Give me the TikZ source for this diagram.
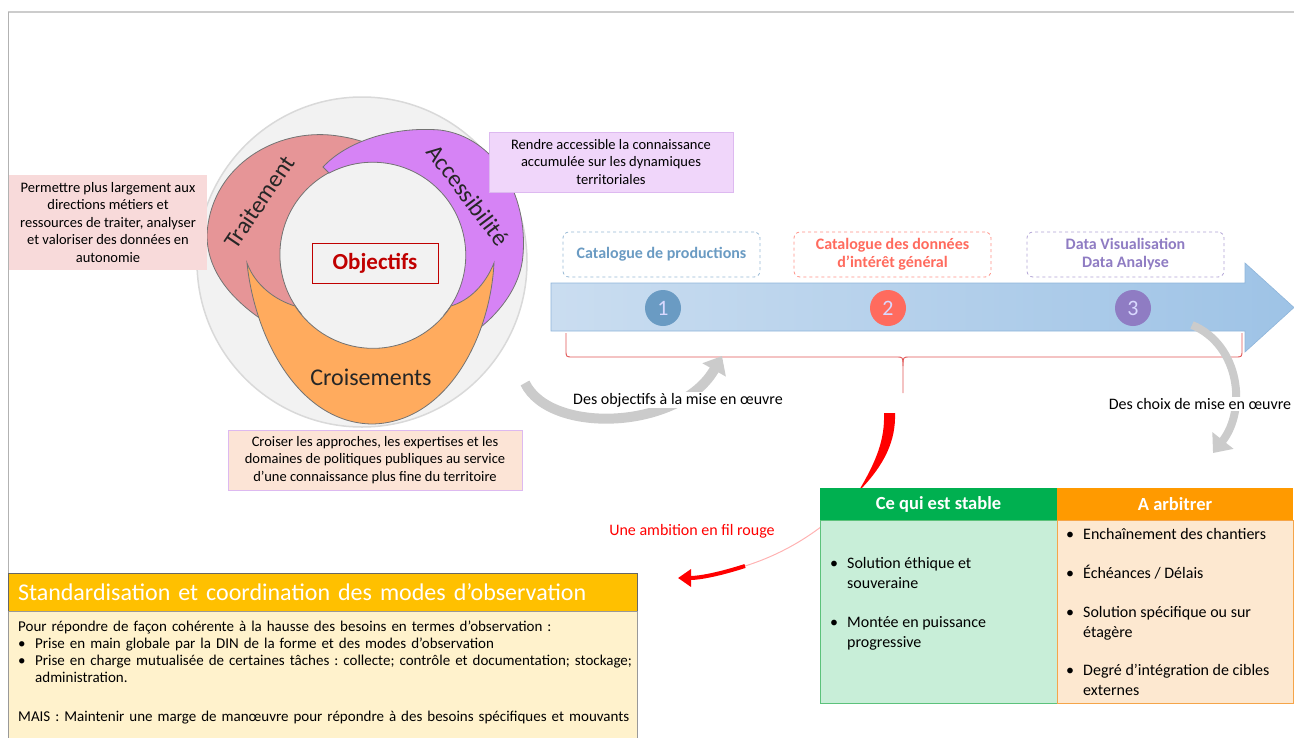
\documentclass[tikz,border=0pt]{standalone}
\usepackage{fontspec}
\setmainfont{Carlito}
\frenchspacing
\usetikzlibrary{arrows.meta,positioning}
\definecolor{rosearc}{HTML}{E69597}
\definecolor{mauvearc}{HTML}{D683F5}
\definecolor{orangearc}{HTML}{FFAB5E}
\definecolor{fondrond}{HTML}{F2F2F2}
\definecolor{bordrond}{HTML}{D9D9D9}
\definecolor{rougeobj}{HTML}{C00000}
\definecolor{rosepale}{HTML}{F8DADA}
\definecolor{mauvepale}{HTML}{F0D6FA}
\definecolor{mauvebord}{HTML}{DDB9F0}
\definecolor{peche}{HTML}{FCE4D6}
\definecolor{flecheg}{HTML}{CADDF0}
\definecolor{fleched}{HTML}{9EC3E6}
\definecolor{flechebord}{HTML}{8FB5DA}
\definecolor{bleuun}{HTML}{6A9BC3}
\definecolor{rougedeux}{HTML}{FF6B5E}
\definecolor{violettrois}{HTML}{8F7CC3}
\definecolor{grisfl}{HTML}{CBCBCB}
\definecolor{vertfonce}{HTML}{00B050}
\definecolor{vertpale}{HTML}{C8EED8}
\definecolor{vertbord}{HTML}{5CC27B}
\definecolor{orangefonce}{HTML}{FF9A00}
\definecolor{orangepale}{HTML}{FDE8D0}
\definecolor{orangebord}{HTML}{F5A54A}
\definecolor{jaunetitre}{HTML}{FFC000}
\definecolor{creme}{HTML}{FFF2CC}
\definecolor{rougebrace}{HTML}{E05555}
\newcommand{\puce}[2][200pt]{\makebox[17pt][l]{\textbullet}\parbox[t]{#1}{\raggedright #2}}
\tikzset{ % styles
    every node/.style={font=\fontsize{16}{19}\selectfont},
    croissant/.style={draw=black!55, line width=0.8pt},
    etiq/.style={font=\fontsize{24}{28}\selectfont, text=black!85},
    boite/.style={align=center, inner sep=0pt, font=\fontsize{14.5}{17.5}\selectfont},
    jalon/.style={draw, dashed, rounded corners=6pt, line width=0.8pt, fill=white,
        minimum width=197pt, minimum height=45pt, align=center,
        font=\bfseries\fontsize{16}{18}\selectfont},
    numero/.style={circle, minimum size=36pt, inner sep=0pt, text=white!85!blue,
        font=\fontsize{22}{22}\selectfont},
    fleche grise/.style={draw=grisfl, line width=10pt, -{Triangle[width=26pt,length=16pt]}},
    tete/.style={minimum height=32pt, inner sep=0pt, text=white,
        font=\bfseries\fontsize{18.5}{21}\selectfont},
    corps/.style={minimum height=183pt, inner sep=0pt, line width=1pt},
    item/.style={anchor=base west, inner sep=0pt, font=\fontsize{16}{20}\selectfont},
}
\begin{document}
\begin{tikzpicture}[x=1pt,y=-1pt]
    \useasboundingbox (0,0) rectangle (1294,737);
    \draw[gray!40, line width=2pt] (8,11.5) -- (1294,11.5);
    \draw[gray!60, line width=0.6pt] (8.5,12) -- (8.5,737);
    % cycle des objectifs
    \draw[fill=fondrond, draw=bordrond, line width=1.5pt] (362,262) circle[radius=165];
    \filldraw[croissant, fill=rosearc] (270,325) .. controls (230,300) and (207,270) .. (207,235)
        .. controls (210,170) and (270,130) .. (330,135) .. controls (350,137) and (368,142) .. (381,150)
        -- (381,162) arc[start angle=275, end angle=140, radius=93] -- cycle;
    \filldraw[croissant, fill=mauvearc] (323,167) .. controls (345,143) and (390,126) .. (440,130)
        .. controls (495,137) and (528,195) .. (523,255) .. controls (521,285) and (500,315) .. (470,335)
        -- (444,315) arc[start angle=40, end angle=-118, radius=93] -- cycle;
    \filldraw[croissant, fill=orangearc] (247,263) .. controls (255,340) and (300,423) .. (372,424)
        .. controls (445,423) and (490,340) .. (494,263) .. controls (485,285) and (470,300) .. (451,306)
        arc[start angle=33, end angle=147, radius=93] .. controls (275,300) and (255,285) .. (247,263) -- cycle;
    \node[etiq, rotate=56] (trait) at (259,202) {Traitement};
    \node[etiq, rotate=-53] (acces) at (468,195) {Accessibilité};
    \node[etiq] (crois) at (371,377) {Croisements};
    \node[draw=rougeobj, line width=0.8pt, minimum width=126pt, minimum height=40pt, text=rougeobj,
        font=\bfseries\fontsize{23}{26}\selectfont] (obj) at (375,263) {Objectifs};
    % textes des objectifs
    \node[boite, fill=rosepale, minimum width=198pt, minimum height=95pt] (txtrait) at (108,222.5)
        {Permettre plus largement aux\\ directions métiers et\\ ressources de traiter, analyser\\
        et valoriser des données en\\ autonomie};
    \node[boite, fill=mauvepale, draw=mauvebord, minimum width=244pt, minimum height=60pt] (txacces) at (611,162)
        {Rendre accessible la connaissance\\ accumulée sur les dynamiques\\ territoriales};
    \node[boite, fill=peche, draw=mauvebord, minimum width=294pt, minimum height=60pt] (txcrois) at (375,460)
        {Croiser les approches, les expertises et les\\ domaines de politiques publiques au service\\
        d’une connaissance plus fine du territoire};
    % grande fleche
    \shade[left color=flecheg, right color=fleched, draw=flechebord, line width=0.6pt]
        (551,283) -- (1245,283) -- (1245,263) -- (1294,307.5) -- (1245,352) -- (1245,331) -- (551,331) -- cycle;
    \node[numero, fill=bleuun] (n1) at (663,308) {1};
    \node[numero, fill=rougedeux] (n2) at (888,308) {2};
    \node[numero, fill=violettrois] (n3) at (1133,308) {3};
    \node[jalon, draw=bleuun!70, text=bleuun] (j1) at (661.5,254.5) {Catalogue de productions};
    \node[jalon, draw=rougedeux!75, text=rougedeux] (j2) at (892.5,254.5) {Catalogue des données\\ d’intérêt général};
    \node[jalon, draw=violettrois!70, text=violettrois] (j3) at (1125.5,254.5) {Data Visualisation\\ Data Analyse};
    % accolade
    \coordinate (pointe) at (903,393);
    \draw[rougebrace, line width=0.9pt] (566,333) -- (566,350) .. controls (566,357) .. (573,357) -- (896,357)
        .. controls (903,357) .. (903,366) -- (pointe);
    \draw[rougebrace, line width=0.9pt] (903,366) .. controls (903,357) .. (910,357) -- (1235,357)
        .. controls (1242,357) .. (1242,350) -- (1242,333);
    % fleches grises
    \coordinate (qa) at (525,383);
    \coordinate (ta) at (722,356);
    \coordinate (qb) at (1192,325);
    \coordinate (tb) at (1213,453);
    \draw[fleche grise] (qa) .. controls (550,435) and (680,430) .. (ta);
    \draw[fleche grise, line width=8pt] (qb) .. controls (1240,345) and (1247,410) .. (tb);
    \node[fill=white, inner sep=1pt] (lba) at (678,400) {Des objectifs à la mise en œuvre};
    \node[fill=white, inner sep=1pt] (lbb) at (1200,404) {Des choix de mise en œuvre};
    % fil rouge
    \coordinate (ra) at (889,413);
    \coordinate (rb) at (858,492);
    \coordinate (rc) at (745,566);
    \coordinate (rd) at (678,578);
    \fill[red] (884,413) -- (895,413) .. controls (896,440) and (885,465) .. (rb)
        .. controls (876,462) and (885,440) .. (884,413) -- cycle;
    \draw[red!30, line width=1pt] (rb) .. controls (830,525) and (790,552) .. (rc);
    \draw[red, line width=4pt, -{Triangle[width=17pt,length=13pt]}] (rc) .. controls (720,574) and (700,578) .. (rd);
    \node[text=red] (lbr) at (692,531) {Une ambition en fil rouge};
    % tableau stable / a arbitrer
    \node[tete, fill=vertfonce, minimum width=237pt] (hstable) at (938.5,504) {Ce qui est stable};
    \node[corps, fill=vertpale, draw=vertbord, minimum width=237pt, below=0pt of hstable] (cstable) {};
    \node[tete, fill=orangefonce, minimum width=236pt] (harb) at (1175,504) {A arbitrer};
    \node[corps, fill=orangepale, draw=orangebord, minimum width=236pt, below=0pt of harb] (carb) {};
    \node[item] (s1) at (830,568) {\puce{Solution éthique et\\souveraine}};
    \node[item] (s2) at (830,627) {\puce{Montée en puissance\\progressive}};
    \node[item] (a1) at (1066,539) {\puce{Enchaînement des chantiers}};
    \node[item] (a2) at (1066,578) {\puce{Échéances / Délais}};
    \node[item] (a3) at (1066,617) {\puce{Solution spécifique ou sur\\étagère}};
    \node[item] (a4) at (1066,675) {\puce{Degré d’intégration de cibles\\externes}};
    % standardisation
    \node[draw=black!60, fill=jaunetitre, minimum width=629pt, minimum height=38pt, inner xsep=10pt,
        text width=609pt, align=left, text=white, font=\fontsize{24}{27}\selectfont] (hstd) at (322.5,592)
        {Standardisation et coordination des modes d’observation};
    \node[draw=black!40, fill=creme, minimum width=629pt, minimum height=130pt, inner sep=0pt,
        below=0pt of hstd] (cstd) {};
    \node[anchor=north west, inner sep=0pt, text width=618pt, align=left,
        font=\fontsize{15}{17}\selectfont] (txstd) at (18,621)
        {Pour répondre de façon cohérente à la hausse des besoins en termes d’observation :\\
        \puce[600pt]{Prise en main globale par la DIN de la forme et des modes d’observation}\\
        \puce[600pt]{Prise en charge mutualisée de certaines tâches : collecte; contrôle et documentation; stockage;\\ administration.}\\[27pt]
        MAIS : Maintenir une marge de manœuvre pour répondre à des besoins spécifiques et mouvants};
\end{tikzpicture}
\end{document}
